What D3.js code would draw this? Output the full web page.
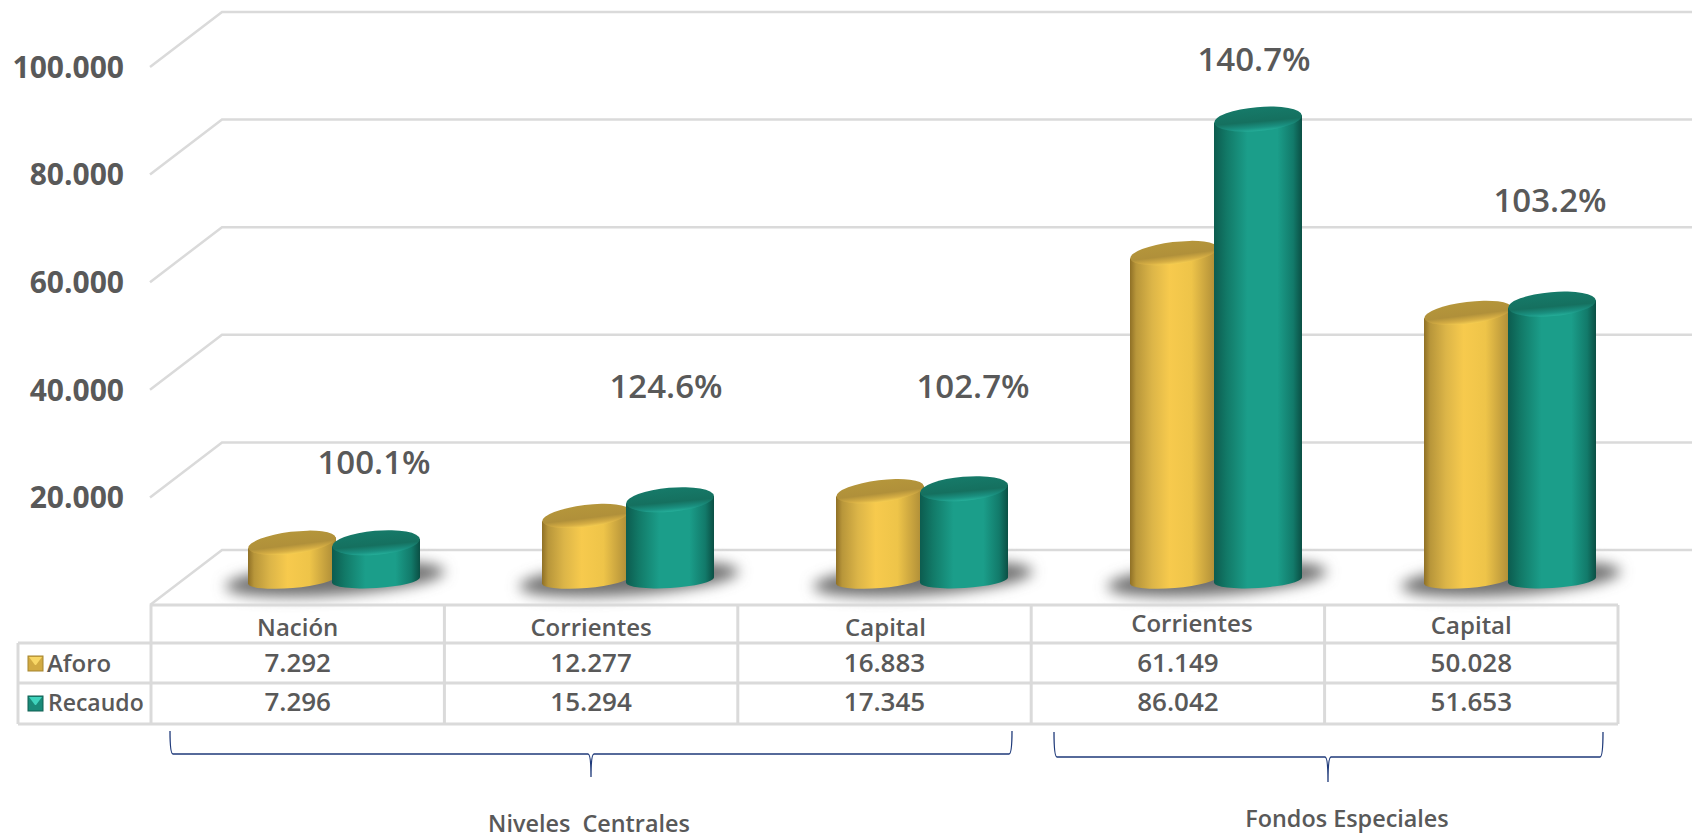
<!DOCTYPE html>
<html>
<head>
<meta charset="utf-8">
<script src="https://cdn.jsdelivr.net/npm/d3@7"></script>
<style>
body { margin: 0; background: #fff; }
text { font-family: "Open Sans", sans-serif; font-weight: 600; fill: #595959; }
</style>
</head>
<body>
<script>
// data
var categories = ["Nación", "Corrientes", "Capital", "Corrientes", "Capital"];
var aforo = [7292, 12277, 16883, 61149, 50028];
var recaudo = [7296, 15294, 17345, 86042, 51653];
var pctLabels = ["100.1%", "124.6%", "102.7%", "140.7%", "103.2%"];
var yTicks = [20000, 40000, 60000, 80000, 100000];
var gridValues = [0, 20000, 40000, 60000, 80000, 100000];
var groupNames = ["Niveles  Centrales", "Fondos Especiales"];

var width = 1696, height = 839;

var esFormat = d3.formatLocale({decimal: ",", thousands: ".", grouping: [3], currency: ["", ""]}).format(",d");

var svg = d3.select("body").append("svg")
	.attr("width", width)
	.attr("height", height)
	.style("display", "block");

var defs = svg.append("defs");

function addGradient(id, stops, vertical) {
	var g = defs.append("linearGradient").attr("id", id)
		.attr("x1", 0).attr("y1", 0)
		.attr("x2", vertical ? 0 : 1).attr("y2", vertical ? 1 : 0);
	stops.forEach(function(s) {
		g.append("stop").attr("offset", s[0]).attr("stop-color", s[1]);
	});
}

addGradient("bodyGold", [[0, "#8f7026"], [0.07, "#b8963a"], [0.25, "#dcb548"], [0.45, "#f7ca4d"], [0.7, "#eec449"], [0.92, "#bb983b"], [1, "#a88935"]]);
addGradient("bodyTeal", [[0, "#0c5c4f"], [0.15, "#127a68"], [0.38, "#1b9e8a"], [0.72, "#1b9e8a"], [0.9, "#127a6a"], [1, "#0b4f44"]]);
addGradient("topGold", [[0, "#b5963b"], [0.6, "#b0903a"], [0.85, "#d6ae44"], [1, "#f4cc50"]], true);
addGradient("topTeal", [[0, "#167a69"], [0.6, "#15705f"], [0.85, "#1a9080"], [1, "#25ae99"]], true);

defs.append("filter").attr("id", "blur")
	.attr("x", "-20%").attr("y", "-100%").attr("width", "140%").attr("height", "300%")
	.append("feGaussianBlur").attr("stdDeviation", 7);

// scales
var y = d3.scaleLinear().domain([0, 100000]).range([605, 67]);
var yBar = d3.scaleLinear().domain([0, 100000]).range([582, 44]);
var xBar = d3.scaleBand().domain(d3.range(categories.length)).range([187, 1657]);
var xCol = d3.scaleBand().domain(d3.range(categories.length)).range([151, 1618]);

// back wall and gridlines
svg.append("g").selectAll("path")
	.data(gridValues)
	.enter().append("path")
	.attr("fill", "none")
	.attr("stroke", "#dadada")
	.attr("stroke-width", 2.5)
	.attr("d", function(d) {
		return "M150," + y(d) + "L222," + (y(d) - 55) + "H1692";
	});

// y axis
var yAxis = d3.axisLeft(y)
	.tickValues(yTicks)
	.tickSize(0)
	.tickPadding(0)
	.tickFormat(esFormat);

var yG = svg.append("g")
	.attr("transform", "translate(124,0)")
	.call(yAxis);
yG.select(".domain").remove();
yG.selectAll("text")
	.attr("dy", "0.34em")
	.style("font-family", "'Open Sans', sans-serif")
	.style("font-weight", 700)
	.style("font-size", "30px");

// cylinders
var series = [
	{name: "Aforo", values: aforo, body: "bodyGold", top: "topGold", left: -86, w: 88, tilt: 7, ry: 11},
	{name: "Recaudo", values: recaudo, body: "bodyTeal", top: "topTeal", left: -2, w: 88, tilt: 5, ry: 12}
];

// floor shadows first, so bars sit on them
svg.append("g").selectAll("ellipse")
	.data(categories)
	.enter().append("ellipse")
	.attr("cx", 0).attr("cy", 0)
	.attr("rx", 110).attr("ry", 16)
	.attr("fill", "#707070")
	.attr("filter", "url(#blur)")
	.attr("transform", function(d, i) {
		return "translate(" + (xBar(i) + xBar.bandwidth() / 2 + 1) + ",579)rotate(-4)";
	});

series.forEach(function(s) {
	var g = svg.append("g").attr("class", "series");
	var rx = s.w / 2;
	var rad = s.tilt * Math.PI / 180;
	var dyEdge = rx * Math.tan(rad);

	var cyl = g.selectAll("g")
		.data(s.values)
		.enter().append("g")
		.attr("transform", function(d, i) {
			return "translate(" + (xBar(i) + xBar.bandwidth() / 2 + s.left + rx) + ",0)";
		});

	cyl.append("path")
		.attr("fill", "url(#" + s.body + ")")
		.attr("d", function(d) {
			var t = yBar(d), b = yBar(0) - 2;
			return "M" + (-rx) + "," + (t + dyEdge) +
				"L" + (-rx) + "," + (b + dyEdge * 0.7) +
				"A" + rx + ",8 " + (-s.tilt * 0.7) + " 0 0 " + rx + "," + (b - dyEdge * 0.7) +
				"L" + rx + "," + (t - dyEdge) + "Z";
		});

	cyl.append("ellipse")
		.attr("rx", rx)
		.attr("ry", s.ry)
		.attr("fill", "url(#" + s.top + ")")
		.attr("transform", function(d) {
			return "translate(0," + yBar(d) + ")rotate(" + (-s.tilt) + ")";
		});
});

// percentage labels, placed by hand as in the original slide
var pctPos = [[374, 474], [666, 398], [973, 398], [1254, 71], [1550, 212]];
svg.append("g").selectAll("text")
	.data(pctLabels)
	.enter().append("text")
	.attr("x", function(d, i) { return pctPos[i][0]; })
	.attr("y", function(d, i) { return pctPos[i][1]; })
	.attr("text-anchor", "middle")
	.style("font-size", "33px")
	.text(function(d) { return d; });

// table
var rows = [605, 643, 683, 724];
var tableRight = xCol.range()[1];
var grid = svg.append("g")
	.attr("stroke", "#dadada")
	.attr("stroke-width", 3)
	.attr("fill", "none");

grid.append("path").attr("d", "M151," + rows[0] + "H" + tableRight);
grid.append("path").attr("d", "M18," + rows[1] + "H" + tableRight);
grid.append("path").attr("d", "M18," + rows[2] + "H" + tableRight);
grid.append("path").attr("d", "M18," + rows[3] + "H" + tableRight);
grid.append("path").attr("d", "M18," + rows[1] + "V" + rows[3]);
grid.selectAll(".col")
	.data(d3.range(categories.length + 1))
	.enter().append("path")
	.attr("class", "col")
	.attr("d", function(i) {
		return "M" + (151 + i * xCol.step()) + "," + rows[0] + "V" + rows[3];
	});

var catShift = [[0, 636], [0, 636], [1, 636], [14, 632], [0, 634]];
svg.append("g").selectAll("text")
	.data(categories)
	.enter().append("text")
	.attr("x", function(d, i) { return xCol(i) + xCol.bandwidth() / 2 + catShift[i][0]; })
	.attr("y", function(d, i) { return catShift[i][1]; })
	.attr("text-anchor", "middle")
	.style("font-size", "24px")
	.text(function(d) { return d; });

[aforo, recaudo].forEach(function(vals, r) {
	svg.append("g").selectAll("text")
		.data(vals)
		.enter().append("text")
		.attr("x", function(d, i) { return xCol(i) + xCol.bandwidth() / 2; })
		.attr("y", r == 0 ? 672 : 711)
		.attr("text-anchor", "middle")
		.style("font-size", "26px")
		.text(function(d) { return esFormat(d); });
});

// legend keys inside the table
var swatchFill = [["#d2aa42", "#f8d766", "#a5852f"], ["#1a8a79", "#3fd3bd", "#0f5f53"]];
series.forEach(function(s, r) {
	var top = r == 0 ? 656 : 696;
	var c = swatchFill[r];
	svg.append("rect")
		.attr("x", 28).attr("y", top)
		.attr("width", 15).attr("height", 15)
		.attr("fill", c[0])
		.attr("stroke", c[2])
		.attr("stroke-width", 1);
	svg.append("path")
		.attr("d", "M29," + (top + 1) + "H42L36," + (top + 9) + "H35Z")
		.attr("fill", c[1]);
	svg.append("text")
		.attr("x", r == 0 ? 47 : 48)
		.attr("y", r == 0 ? 672 : 711)
		.style("font-size", r == 0 ? "24px" : "23px")
		.text(s.name);
});

// braces under the table
function brace(x0, x1, xm, top, mid, tip) {
	return "M" + x0 + "," + top +
		"Q" + x0 + "," + mid + " " + (x0 + 3) + "," + mid +
		"H" + (xm - 3) +
		"Q" + xm + "," + mid + " " + xm + "," + tip +
		"Q" + xm + "," + mid + " " + (xm + 3) + "," + mid +
		"H" + (x1 - 3) +
		"Q" + x1 + "," + mid + " " + x1 + "," + top;
}

var braces = svg.append("g")
	.attr("fill", "none")
	.attr("stroke", "#1f3a7a")
	.attr("stroke-width", 1.3);
braces.append("path").attr("d", brace(170, 1012, 591, 731, 754, 777));
braces.append("path").attr("d", brace(1054, 1603, 1328, 732, 757, 782));

svg.append("text")
	.attr("x", 589).attr("y", 832)
	.attr("text-anchor", "middle")
	.style("font-size", "23.4px")
	.style("white-space", "pre")
	.text(groupNames[0]);

svg.append("text")
	.attr("x", 1347).attr("y", 827)
	.attr("text-anchor", "middle")
	.style("font-size", "23.4px")
	.text(groupNames[1]);
</script>
</body>
</html>
